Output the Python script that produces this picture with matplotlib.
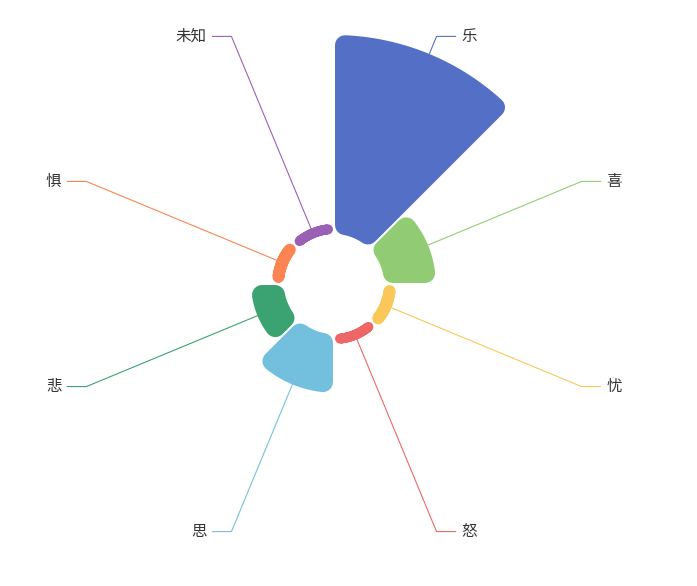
import numpy as np
import matplotlib.pyplot as plt
from matplotlib.patches import Polygon

plt.rcParams['font.family'] = ['Noto Sans CJK SC', 'DejaVu Sans']

# data
names = ['乐', '喜', '忧', '怒', '思', '悲', '惧', '未知']
values = [200, 52, 12, 10, 59, 33, 12, 10]
colors = ['#5470c6', '#91cc75', '#fac858', '#ee6666',
          '#73c0de', '#3ba272', '#fc8452', '#9a60b4']

# layout (pixels)
W, H = 697, 586
cx, cy = 334, 284
r_in, r_out = 50, 249
corner = 10
gap = 1
knee_r = 268
tail = 19
px = 72 / 100  # points per pixel


def pt(r, a):
    return cx + r * np.sin(a), cy - r * np.cos(a)


fig = plt.figure(figsize=(W / 100, H / 100), dpi=100)
ax = fig.add_axes([0, 0, 1, 1])
ax.set_xlim(0, W)
ax.set_ylim(H, 0)
ax.axis('off')

n = len(values)
step = 2 * np.pi / n
vmax = max(values)

for i, (name, v, c) in enumerate(zip(names, values, colors)):
    a1, a2 = i * step, (i + 1) * step
    R = r_in + v / vmax * (r_out - r_in)
    rr = min(corner, (R - r_in) / 2)
    d = rr + gap
    ro, ri = R - rr, r_in + rr

    # shrunk sector, then stroked with round joins -> rounded corners
    t_out = np.linspace(a1 + np.arcsin(d / ro), a2 - np.arcsin(d / ro), 80)
    t_in = np.linspace(a2 - np.arcsin(d / ri), a1 + np.arcsin(d / ri), 40)
    xs = np.concatenate([cx + ro * np.sin(t_out), cx + ri * np.sin(t_in)])
    ys = np.concatenate([cy - ro * np.cos(t_out), cy - ri * np.cos(t_in)])
    ax.add_patch(Polygon(np.column_stack([xs, ys]), closed=True,
                         facecolor=c, edgecolor=c, linewidth=2 * rr * px,
                         joinstyle='round', capstyle='round'))

    # label line
    mid = (a1 + a2) / 2
    sx, sy = pt(R, mid)
    kx, ky = pt(knee_r, mid)
    side = 1 if np.sin(mid) > 0 else -1
    ex = kx + side * tail
    ax.plot([sx, kx, ex], [sy, ky, ky], color=c, lw=1 * px * 1.1,
            solid_joinstyle='miter')
    ax.text(ex + side * 6, ky, name, fontsize=15.5 * px, color='#333333',
            ha='left' if side > 0 else 'right', va='center')

fig.savefig('out.png', dpi=100)
